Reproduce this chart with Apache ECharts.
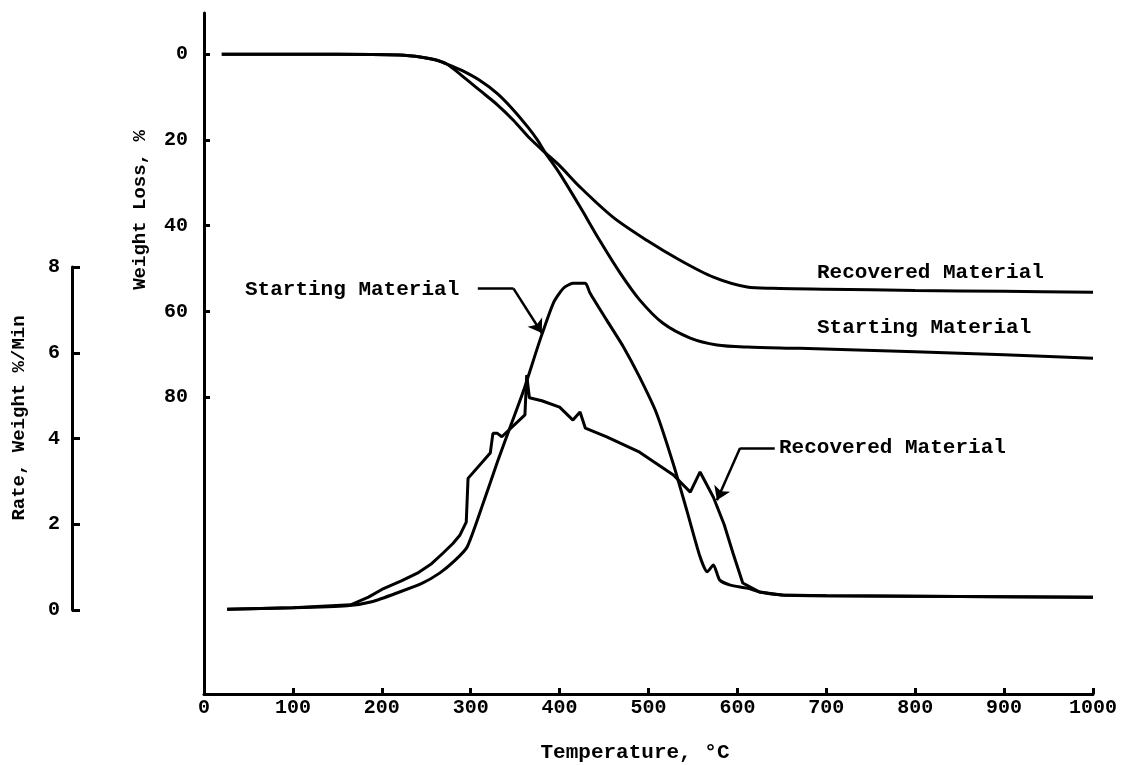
<!DOCTYPE html>
<html><head><meta charset="utf-8">
<script src="https://cdn.jsdelivr.net/npm/echarts@6/dist/echarts.min.js"></script>
<style>html,body{margin:0;padding:0;background:#fff}#c{width:1124px;height:765px}</style>
</head><body><div id="c"></div>
<script>
// ---- data ----
const lossTicks = [0, 20, 40, 60, 80];
const rateTicks = [0, 2, 4, 6, 8];

// Weight loss, % vs temperature, C
const startLoss = [[20,0],[150,0],[220,0.2],[245,0.7],[260,1.3],[273,2.3],[290,3.8],[310,6.1],[330,9.2],[348,13],[365,17.2],[375,20],[384,23],[400,27.8],[423,35.6],[445,43.4],[468,51],[490,57.3],[516,62.7],[547,66.2],[577,67.8],[611,68.3],[670,68.6],[800,69.4],[900,70.1],[1000,70.9]];
const recLoss = [[20,0],[150,0],[220,0.2],[245,0.7],[260,1.3],[273,2.3],[290,5],[310,8.4],[330,11.8],[348,15.4],[365,19.3],[384,23],[400,26],[423,31],[460,38],[498,43.4],[535,48],[573,52],[611,54.3],[640,54.6],[700,54.8],[800,55.1],[900,55.3],[1000,55.5]];

// Rate, weight %/min vs temperature, C
const startRate = [[26,0.02],[100,0.05],[161,0.1],[190,0.2],[220,0.42],[245,0.62],[265,0.86],[282,1.15],[296,1.47],[314,2.49],[330,3.45],[345,4.3],[360,5.15],[378,6.3],[393,7.16],[404,7.5],[415,7.62],[429,7.62],[434,7.4],[453,6.76],[472,6.13],[490,5.43],[509,4.59],[528,3.4],[543,2.33],[558,1.24],[566,0.89],[573,1.05],[580,0.7],[592,0.58],[611,0.51],[625,0.42],[650,0.35],[700,0.33],[800,0.32],[1000,0.3]];
const recRate = [[26,0.02],[100,0.05],[165,0.12],[185,0.3],[202,0.5],[222,0.68],[240,0.86],[256,1.08],[269,1.33],[280,1.55],[288,1.75],[295,2.05],[297,3.07],[322,3.66],[325,4.12],[330,4.12],[335,4.04],[361,4.55],[363,5.48],[366,4.95],[380,4.88],[400,4.73],[415,4.43],[423,4.62],[429,4.24],[453,4.04],[490,3.68],[528,3.15],[547,2.75],[558,3.22],[573,2.63],[585,2.0],[595,1.33],[606,0.63],[625,0.42],[650,0.35],[700,0.33],[800,0.32],[1000,0.3]];

// annotation leaders (temperature, rate)
const startLeader = [[308,7.5],[348,7.5],[380,6.46]];
const recLeader = [[642,3.78],[603,3.78],[577,2.56]];

const annoStart = 'Starting Material';
const annoRec = 'Recovered Material';
const xName = 'Temperature, °C';
const lossName = 'Weight Loss, %';
const rateName = 'Rate, Weight %/Min';

// ---- chart ----
const FONT = "'Liberation Mono', 'DejaVu Sans Mono', monospace";
const txt = (s) => ({ color: '#000', fontFamily: FONT, fontWeight: 'bold', fontSize: s });
const chart = echarts.init(document.getElementById('c'), null, { renderer: 'canvas' });

function leader(pts) {
  return [
    [{ coord: pts[0], symbol: 'none' }, { coord: pts[1], symbol: 'none' }],
    [{ coord: pts[1], symbol: 'none' }, { coord: pts[2], symbol: 'arrow' }]
  ];
}

const option = {
  animation: false,
  backgroundColor: '#fff',
  grid: [
    { left: 204, right: 31, top: 13, bottom: 71 },
    { left: 204, right: 31, top: 267, bottom: 155 }
  ],
  xAxis: [
    { type: 'value', gridIndex: 0, min: 0, max: 1000, interval: 100, position: 'bottom',
      axisLine: { show: true, onZero: false, lineStyle: { color: '#000', width: 3 } },
      axisTick: { show: true, inside: true, length: 6, lineStyle: { color: '#000', width: 3 } },
      axisLabel: Object.assign({ margin: 4, formatter: (v) => String(v) }, txt(20)),
      splitLine: { show: false } },
    { type: 'value', gridIndex: 1, min: 0, max: 1000, show: false }
  ],
  yAxis: [
    { type: 'value', gridIndex: 0, inverse: true, min: -9.6, max: 149.2, position: 'left',
      axisLine: { show: true, onZero: false, lineStyle: { color: '#000', width: 3 } },
      axisTick: { show: true, inside: true, length: 6, customValues: lossTicks, lineStyle: { color: '#000', width: 3 } },
      axisLabel: Object.assign({ margin: 16, customValues: lossTicks }, txt(20)),
      splitLine: { show: false } },
    { type: 'value', gridIndex: 1, min: 0, max: 8, interval: 2, position: 'left', offset: 132,
      axisLine: { show: true, onZero: false, lineStyle: { color: '#000', width: 3 } },
      axisTick: { show: true, inside: true, length: 8, customValues: rateTicks, lineStyle: { color: '#000', width: 3 } },
      axisLabel: Object.assign({ margin: 12, customValues: rateTicks }, txt(20)),
      splitLine: { show: false } }
  ],
  series: [
    { name: 'Starting Material loss', type: 'line', xAxisIndex: 0, yAxisIndex: 0, data: startLoss,
      showSymbol: false, smooth: 0.3, lineStyle: { color: '#000', width: 3 } },
    { name: 'Recovered Material loss', type: 'line', xAxisIndex: 0, yAxisIndex: 0, data: recLoss,
      showSymbol: false, smooth: 0.3, lineStyle: { color: '#000', width: 3 } },
    { name: 'Starting Material rate', type: 'line', xAxisIndex: 1, yAxisIndex: 1, data: startRate,
      showSymbol: false, smooth: 0.2, lineStyle: { color: '#000', width: 3 },
      markLine: { silent: true, symbol: ['none', 'arrow'], symbolSize: 13, label: { show: false },
        lineStyle: { color: '#000', width: 2.5, type: 'solid' }, data: leader(startLeader) } },
    { name: 'Recovered Material rate', type: 'line', xAxisIndex: 1, yAxisIndex: 1, data: recRate,
      showSymbol: false, smooth: false, lineStyle: { color: '#000', width: 3 },
      markLine: { silent: true, symbol: ['none', 'arrow'], symbolSize: 13, label: { show: false },
        lineStyle: { color: '#000', width: 2.5, type: 'solid' }, data: leader(recLeader) } }
  ],
  graphic: [
    { type: 'text', left: 245, top: 279, style: Object.assign({ text: annoStart }, txt(21)) },
    { type: 'text', left: 779, top: 437, style: Object.assign({ text: annoRec }, txt(21)) },
    { type: 'text', left: 817, top: 262, style: Object.assign({ text: annoRec }, txt(21)) },
    { type: 'text', left: 817, top: 317, style: Object.assign({ text: annoStart }, txt(21)) },
    { type: 'text', x: 635, y: 753, style: Object.assign({ text: xName, align: 'center', verticalAlign: 'middle' }, txt(21)) },
    { type: 'text', x: 140, y: 210, rotation: Math.PI / 2, style: Object.assign({ text: lossName, align: 'center', verticalAlign: 'middle' }, txt(19)) },
    { type: 'text', x: 19, y: 418, rotation: Math.PI / 2, style: Object.assign({ text: rateName, align: 'center', verticalAlign: 'middle' }, txt(19)) }
  ]
};
chart.setOption(option);
</script></body></html>
